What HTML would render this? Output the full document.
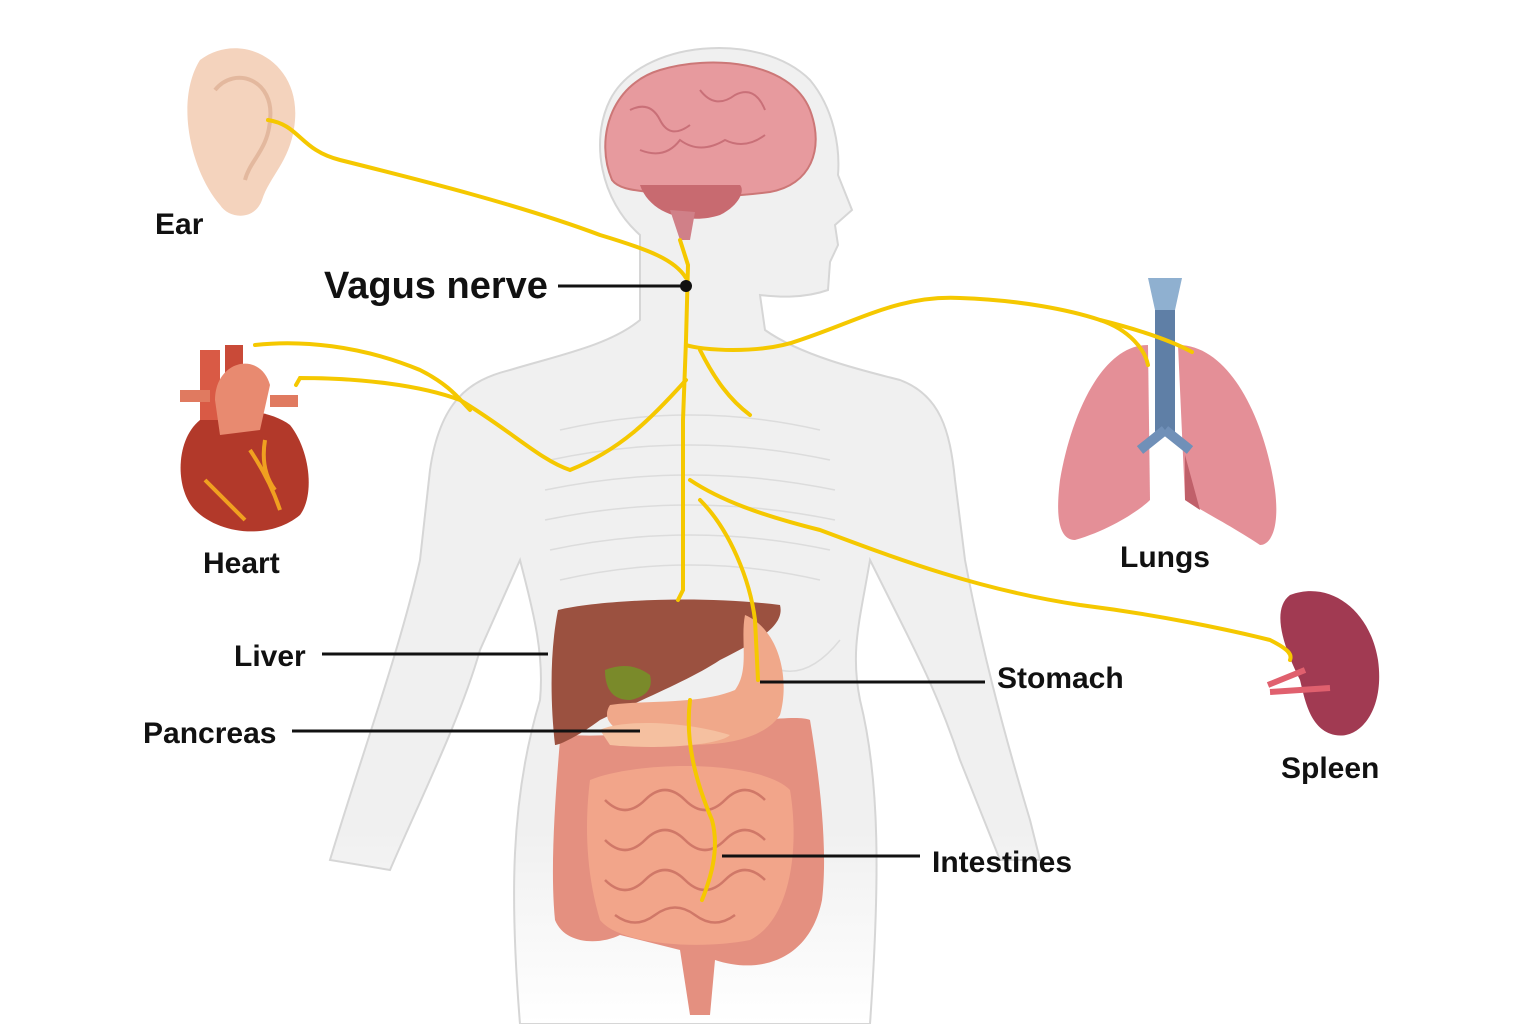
<!DOCTYPE html>
<html><head><meta charset="utf-8"><style>
html,body{margin:0;padding:0;background:#fff;}
svg{display:block}
text{font-family:"Liberation Sans",sans-serif;font-weight:bold;fill:#111}
</style></head><body>
<svg width="1536" height="1024" viewBox="0 0 1536 1024" xmlns="http://www.w3.org/2000/svg">
<defs>
<linearGradient id="bodyfade" x1="0" y1="0" x2="0" y2="1">
<stop offset="0" stop-color="#f0f0f0"/><stop offset="0.8" stop-color="#f0f0f0"/><stop offset="1" stop-color="#fff"/>
</linearGradient>
</defs>
<!-- body silhouette -->
<path d="M640,235 C600,200 590,140 610,100 C640,40 760,30 810,80 C835,110 840,150 838,175 L852,210 L835,225 L838,245 L830,262 L828,290 C800,300 770,296 760,295 L765,330 C800,355 860,370 900,380 C940,395 950,430 955,480 L965,560 C980,640 1000,720 1030,820 L1040,860 L1000,860 L960,760 C940,700 920,660 900,620 L870,560 C860,620 850,650 860,700 C880,780 880,880 870,1024 L520,1024 C510,900 510,800 540,700 C545,650 530,600 520,560 L480,650 C460,720 420,800 390,870 L330,860 C360,760 400,650 420,560 L430,470 C440,400 470,380 510,370 C560,355 610,345 640,320 Z" fill="url(#bodyfade)" stroke="#d6d6d6" stroke-width="2"/>
<!-- faint rib lines -->
<g stroke="#dcdcdc" stroke-width="1.5" fill="none">
<path d="M560,430 Q690,400 820,430"/><path d="M550,460 Q690,430 830,460"/><path d="M545,490 Q690,460 835,490"/><path d="M545,520 Q690,490 835,520"/><path d="M550,550 Q690,520 830,550"/><path d="M560,580 Q690,550 820,580"/>
<path d="M560,640 Q600,680 640,660"/><path d="M760,660 Q800,690 840,640"/>
</g>
<!-- brain -->
<path d="M612,180 C595,140 610,85 660,70 C710,55 790,60 810,110 C825,150 810,185 770,192 C740,196 690,200 650,192 C630,190 618,188 612,180 Z" fill="#e79a9e" stroke="#c77" stroke-width="2"/>
<path d="M640,185 C650,215 690,225 720,215 C740,205 745,190 740,185 Z" fill="#c86a70"/>
<path d="M670,210 L680,240 L690,240 L695,212 Z" fill="#d08088"/>
<g stroke="#c97078" stroke-width="2" fill="none"><path d="M630,110 q20,-10 30,10 q10,20 30,5"/><path d="M700,90 q15,20 35,5 q20,-10 30,15"/><path d="M640,150 q25,10 40,-10 q20,15 45,0 q20,10 40,-5"/></g>
<!-- ear -->
<path d="M200,60 C240,30 300,60 295,120 C292,160 270,175 262,200 C255,220 230,220 220,205 C190,170 175,100 200,60 Z" fill="#f4d3bd"/>
<path d="M215,90 C235,65 275,80 270,120 C268,150 250,160 245,180" stroke="#e3b89e" stroke-width="4" fill="none"/>
<!-- heart -->
<path d="M200,420 C175,440 175,490 195,510 C220,535 270,540 300,515 C315,495 310,450 290,425 C270,410 230,405 200,420 Z" fill="#b2392a"/>
<rect x="200" y="350" width="20" height="70" fill="#d95a45"/><rect x="225" y="345" width="18" height="60" fill="#c94a38"/>
<path d="M215,400 C215,360 260,350 270,385 L260,430 L220,435 Z" fill="#e88a70"/>
<rect x="180" y="390" width="30" height="12" fill="#e07a60"/><rect x="270" y="395" width="28" height="12" fill="#e07a60"/>
<path d="M205,480 q20,20 40,40 M250,450 q20,30 30,60 M265,440 q-5,30 10,50" stroke="#f0a020" stroke-width="4" fill="none"/>
<!-- lungs -->
<path d="M1148,345 C1100,345 1070,420 1060,480 C1055,520 1060,540 1075,540 C1110,530 1140,510 1150,500 Z" fill="#e48f97"/>
<path d="M1178,345 C1230,345 1265,420 1275,490 C1280,530 1270,545 1260,545 C1230,525 1200,510 1185,500 Z" fill="#e48f97"/>
<path d="M1185,455 L1200,510 L1185,500 Z" fill="#c0606a"/>
<rect x="1155" y="305" width="20" height="130" fill="#5f7fa6"/>
<path d="M1148,278 L1182,278 L1175,310 L1155,310 Z" fill="#8fb0d0"/>
<path d="M1165,430 L1140,450 M1165,430 L1190,450" stroke="#7090b8" stroke-width="10"/>
<!-- spleen -->
<path d="M1290,595 C1330,580 1370,610 1378,660 C1385,710 1360,740 1335,735 C1310,730 1305,700 1300,680 C1285,650 1270,610 1290,595 Z" fill="#a13a52"/>
<path d="M1268,685 L1305,670 M1270,692 L1330,688" stroke="#e0606e" stroke-width="6"/>
<!-- intestines -->
<path d="M560,740 C555,800 550,870 555,920 C565,945 600,945 620,935 L680,950 L690,1015 L710,1015 L715,960 C760,975 810,960 822,900 C828,850 820,780 810,720 C790,710 650,740 570,735 Z" fill="#e49080"/>
<path d="M590,780 C640,760 760,760 790,790 C800,850 790,920 750,940 C700,950 620,945 600,920 C585,870 585,820 590,780 Z" fill="#f2a58a"/>
<g stroke="#d07868" stroke-width="2.5" fill="none"><path d="M605,800 q20,20 40,0 q20,-20 40,0 q20,20 40,0 q20,-20 40,0"/><path d="M605,840 q20,20 40,0 q20,-20 40,0 q20,20 40,0 q20,-20 40,0"/><path d="M605,880 q20,20 40,0 q20,-20 40,0 q20,20 40,0 q20,-20 40,0"/><path d="M615,915 q20,15 40,0 q20,-15 40,0 q20,15 40,0"/></g>
<!-- liver -->
<path d="M558,610 C600,600 700,595 780,605 C785,625 760,640 720,660 C690,680 640,700 600,720 C580,735 560,745 555,745 C550,700 550,650 558,610 Z" fill="#9b5140"/>
<path d="M605,670 q25,-10 45,5 q5,20 -20,25 q-25,0 -25,-30 Z" fill="#7a8a2a"/>
<!-- stomach / pancreas -->
<path d="M745,615 C780,630 790,680 780,715 C760,745 700,750 650,740 C615,735 600,720 610,705 C640,700 700,705 735,690 C750,670 740,640 745,615 Z" fill="#f0a88a"/>
<path d="M600,730 C620,720 680,720 730,735 C720,745 660,750 610,745 Z" fill="#f5c0a0"/>
<!-- nerves -->
<g stroke="#f5c800" stroke-width="4" fill="none" stroke-linecap="round">
<path d="M268,120 C300,125 300,150 340,160 C420,180 520,205 600,235 C650,250 675,260 686,278"/>
<path d="M680,240 L688,265 L686,340 L683,420 L683,590 L678,600"/>
<path d="M686,345 C700,350 760,355 800,340 C860,320 900,295 960,298 C1020,300 1070,310 1100,320 C1140,330 1170,340 1192,352"/>
<path d="M1100,320 C1130,330 1145,350 1148,365"/>
<path d="M686,380 C650,420 620,450 570,470 C540,460 510,430 460,400 C420,385 360,378 300,378 L296,385"/>
<path d="M255,345 C300,340 360,345 420,370 C450,385 460,400 470,410"/>
<path d="M690,480 C720,500 760,515 820,530 C900,560 980,590 1080,605 C1160,615 1230,630 1270,640 C1290,650 1292,655 1290,660"/>
<path d="M700,500 C730,530 750,580 755,620 L758,680"/>
<path d="M690,700 C685,740 695,780 712,820 C720,850 710,880 702,900"/>
<path d="M700,350 C715,380 730,400 750,415"/>
</g>
<!-- label lines -->
<g stroke="#111" stroke-width="3">
<line x1="558" y1="286" x2="686" y2="286"/>
<line x1="322" y1="654" x2="548" y2="654"/>
<line x1="292" y1="731" x2="640" y2="731"/>
<line x1="760" y1="682" x2="985" y2="682"/>
<line x1="722" y1="856" x2="920" y2="856"/>
</g>
<circle cx="686" cy="286" r="6" fill="#111"/>
<!-- labels -->
<text x="155" y="234" font-size="30">Ear</text>
<text x="324" y="298" font-size="38">Vagus nerve</text>
<text x="203" y="573" font-size="30">Heart</text>
<text x="234" y="666" font-size="30">Liver</text>
<text x="143" y="743" font-size="30">Pancreas</text>
<text x="997" y="688" font-size="30">Stomach</text>
<text x="932" y="872" font-size="30">Intestines</text>
<text x="1120" y="567" font-size="30">Lungs</text>
<text x="1281" y="778" font-size="30">Spleen</text>
</svg>
</body></html>
